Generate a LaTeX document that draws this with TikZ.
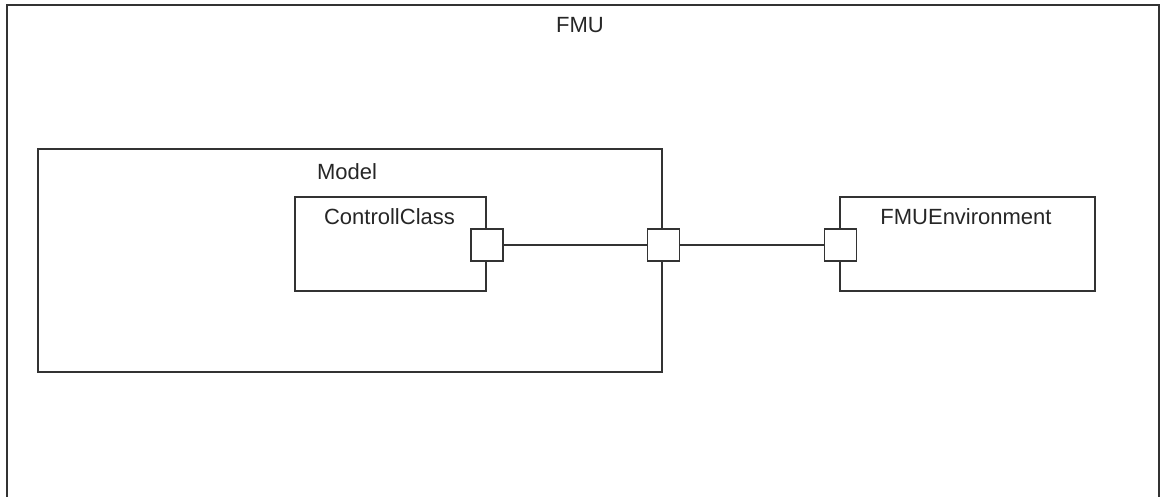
\documentclass[tikz,border=0pt]{standalone}
\usepackage{fontspec}
\setmainfont{Liberation Sans}

\begin{document}
\begin{tikzpicture}[
		x=1pt, y=-1pt,
		every node/.style={text=black!85, font=\fontsize{22}{26}\selectfont},
		part/.style={draw=black!80, line width=1.5pt, inner sep=0pt},
		port/.style={draw=black!80, line width=1.5pt, fill=white, minimum size=32pt, inner sep=0pt},
		title/.style={anchor=base, inner sep=0pt}
	]
	\useasboundingbox (0,0) rectangle (1160,497);
	\node[part, line width=2pt, minimum width=1152pt, minimum height=540pt] (fmu) at (583,275) {};
	\node[title] (fmutext) at (580,33) {FMU};
	\node[part, minimum width=624pt, minimum height=223pt] (model) at (350,260.5) {};
	\node[title] (modeltext) at (347,180) {Model};
	\node[part, minimum width=191pt, minimum height=94pt] (ctrl) at (390.5,244) {};
	\node[title] (ctrltext) at (389.5,225) {ControllClass};
	\node[part, minimum width=255pt, minimum height=94pt] (env) at (967.5,244) {};
	\node[title] (envtext) at (966,225) {FMUEnvironment};
	\node[port] (ctrlport) at (487,245) {};
	\node[port] (modelport) at (663.5,245) {};
	\node[port] (envport) at (840.5,245) {};
	\draw[draw=black!80, line width=1.5pt] (ctrlport) -- (modelport);
	\draw[draw=black!80, line width=1.5pt] (modelport) -- (envport);
\end{tikzpicture}
\end{document}
